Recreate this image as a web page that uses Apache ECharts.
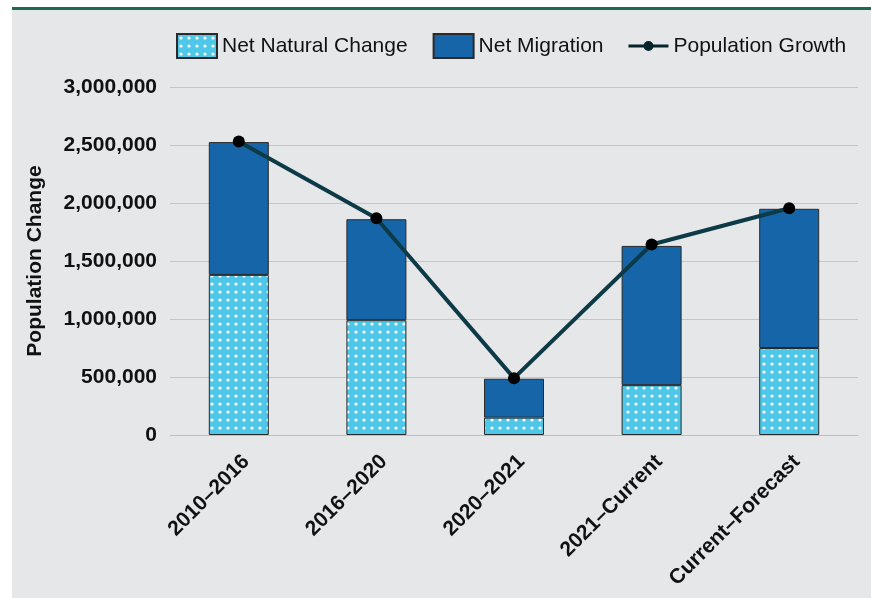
<!DOCTYPE html>
<html>
<head>
<meta charset="utf-8">
<script src="https://cdn.jsdelivr.net/npm/echarts@6/dist/echarts.min.js"></script>
<style>
  body { margin: 0; background: #fff; }
  #bg { position: absolute; left: 12px; top: 7px; width: 859px; height: 591px;
        background: #e6e7e8; border-top: 3px solid #1c6a55; box-sizing: border-box; }
  #main { position: absolute; left: 0; top: 0; width: 871px; height: 598px; }
</style>
</head>
<body>
<div id="bg"></div>
<div id="main"></div>
<script>
var categories = ['2010\u20132016', '2016\u20132020', '2020\u20132021', '2021\u2013Current', 'Current\u2013Forecast'];
var netNatural = [1380000, 990000, 150000, 430000, 750000];
var netMigration = [1145000, 870000, 335000, 1200000, 1200000];
var popGrowth = [2530000, 1868000, 490000, 1642000, 1955000];
var yTicks = { min: 0, max: 3000000, step: 500000 };

// dotted fill for the natural change bars
var dots = document.createElement('canvas');
dots.width = 8; dots.height = 8;
var ctx = dots.getContext('2d');
ctx.fillStyle = '#4fc7e8';
ctx.fillRect(0, 0, 8, 8);
ctx.fillStyle = '#ffffff';
ctx.beginPath();
ctx.arc(4, 4, 1.6, 0, Math.PI * 2);
ctx.fill();

// legend icon for the line: thick line with a small dot, padded to 40x24
var lineIcon = 'path://M0,0 M40,24 M0,10.5 L40,10.5 L40,13.5 L0,13.5 Z ' +
    'M25,12 A5,5 0 1 1 15,12 A5,5 0 1 1 25,12 Z';

var font = '"Liberation Sans", Arial, sans-serif';
var chart = echarts.init(document.getElementById('main'));
chart.setOption({
    animation: false,
    textStyle: { fontFamily: font },
    legend: {
        left: 171, top: 28,
        itemWidth: 40, itemHeight: 24, itemGap: 25,
        textStyle: { fontSize: 21, color: '#111', fontFamily: font },
        data: [
            { name: 'Net Natural Change', icon: 'rect' },
            { name: 'Net Migration', icon: 'rect' },
            { name: 'Population Growth', icon: lineIcon, itemStyle: { color: '#06232b', borderWidth: 0 } }
        ]
    },
    grid: { left: 170, right: 13, top: 87, bottom: 163 },
    xAxis: {
        type: 'category',
        data: categories,
        axisLine: { lineStyle: { color: '#bfbfbf', width: 1 } },
        axisTick: { show: false },
        axisLabel: {
            rotate: 45, margin: 16, verticalAlign: 'top',
            fontSize: 21, fontWeight: 'bold', color: '#111', interval: 0
        }
    },
    yAxis: {
        type: 'value',
        min: yTicks.min, max: yTicks.max, interval: yTicks.step,
        name: 'Population Change',
        nameLocation: 'middle',
        nameGap: 124,
        nameTextStyle: { fontSize: 21, fontWeight: 'bold', color: '#111' },
        axisLine: { show: false },
        axisTick: { show: false },
        axisLabel: {
            margin: 13, fontSize: 21, fontWeight: 'bold', color: '#111',
            formatter: function (v) { return v.toLocaleString('en-US'); }
        },
        splitLine: { lineStyle: { color: '#c6c6c6', width: 1 } }
    },
    series: [
        {
            name: 'Net Natural Change',
            type: 'bar',
            stack: 'total',
            barWidth: 60,
            data: netNatural,
            itemStyle: { color: { image: dots, repeat: 'repeat' }, borderColor: '#2a2a2a', borderWidth: 1 }
        },
        {
            name: 'Net Migration',
            type: 'bar',
            stack: 'total',
            data: netMigration,
            itemStyle: { color: '#1565a8', borderColor: '#2a2a2a', borderWidth: 1 }
        },
        {
            name: 'Population Growth',
            type: 'line',
            data: popGrowth,
            symbol: 'circle',
            symbolSize: 12,
            z: 5,
            itemStyle: { color: '#000' },
            lineStyle: { color: '#0d3a47', width: 4 }
        }
    ]
});
</script>
</body>
</html>
